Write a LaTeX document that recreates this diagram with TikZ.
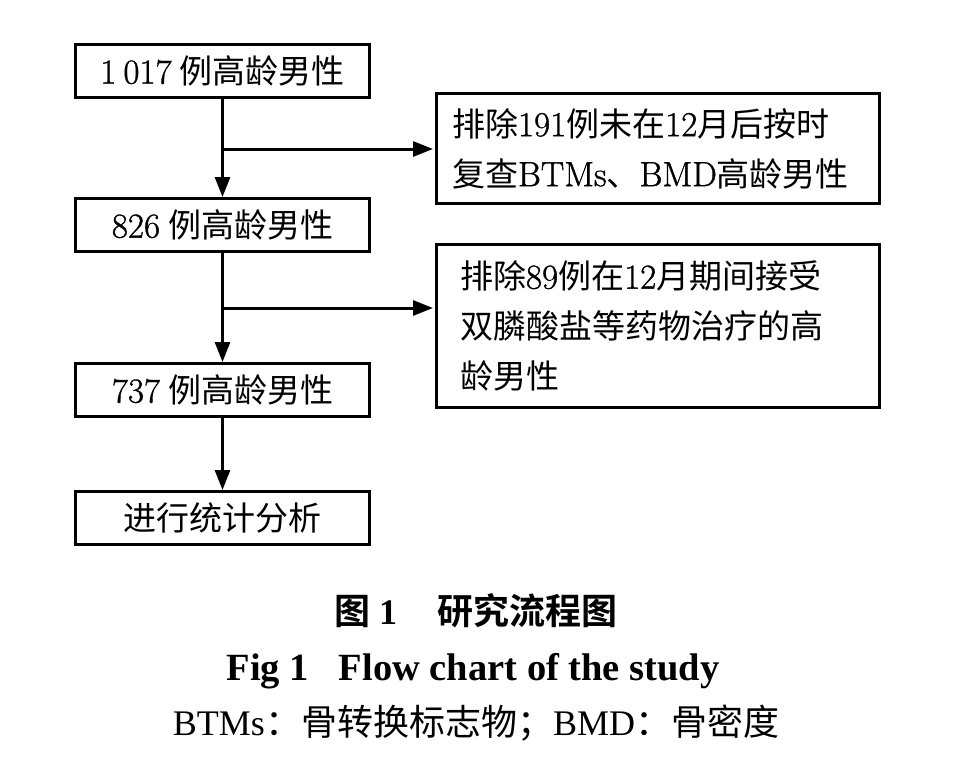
\documentclass[tikz,border=0pt]{standalone}
\usepackage{fontspec}
\usetikzlibrary{arrows.meta}
\setmainfont{Latin Modern Roman}[FakeBold=1]
\newfontfamily\cjk{Noto Sans CJK SC}[BoldFont={* Bold}]
\newfontfamily\capfont{Liberation Serif}
\newcommand{\dg}[1]{{\fontsize{35}{38}\selectfont #1}}
\begin{document}
\begin{tikzpicture}[x=1pt,y=-1pt,
  mainbox/.style={draw, line width=3pt, minimum width=294pt, minimum height=53pt, inner sep=0pt,
    font=\fontsize{33}{38}\selectfont},
  sidebox/.style={draw, line width=3pt, minimum width=443pt, align=left, inner sep=0pt,
    font=\fontsize{33}{50}\selectfont},
  conn/.style={line width=3pt, -{Triangle[length=20pt,width=15pt]}},
  captext/.style={inner sep=0pt, anchor=base}
]
\useasboundingbox (0,0) rectangle (960,766);
\node[mainbox] (b1) at (222.5,71) {\dg{1\hspace{7pt}017}\hspace{8pt}{\cjk 例高龄男性}};
\node[mainbox] (b2) at (222.5,225) {\dg{826}\hspace{8pt}{\cjk 例高龄男性}};
\node[mainbox] (b3) at (222.5,390) {\dg{737}\hspace{8pt}{\cjk 例高龄男性}};
\node[mainbox] (b4) at (222.5,518) {{\cjk 进行统计分析}};
\node[sidebox, minimum height=110pt, text width=412pt] (sa) at (658,148.5)
  {{\cjk 排除}\dg{191}{\cjk 例未在}\dg{12}{\cjk 月后按时}\\{\cjk 复查}\dg{BTMs}{\cjk 、}\dg{BMD}{\cjk 高龄男性}};
\node[sidebox, minimum height=163pt, text width=396pt] (sb) at (658,326)
  {{\cjk 排除}\dg{89}{\cjk 例在}\dg{12}{\cjk 月期间接受}\\{\cjk 双膦酸盐等药物治疗的高}\\{\cjk 龄男性}};
\coordinate (j1) at (222.5,149);
\coordinate (j2) at (222.5,308);
\draw[conn] (b1.south) -- (b2.north);
\draw[conn] (b2.south) -- (b3.north);
\draw[conn] (b3.south) -- (b4.north);
\draw[conn, shorten >=2pt] (j1) -- (j1 -| sa.west);
\draw[conn, shorten >=2pt] (j2) -- (j2 -| sb.west);
\node[captext, anchor=base west, font=\fontsize{36}{40}\selectfont] (c1) at (334,624) {{\cjk\bfseries 图}\hspace{9pt}{\capfont\bfseries 1}\hspace{40pt}{\cjk\bfseries 研究流程图}};
\node[captext, font=\fontsize{38.5}{42}\selectfont\capfont\bfseries] (c2) at (473,680) {Fig 1\hspace{30pt}Flow chart of the study};
\node[captext, font=\fontsize{36}{40}\selectfont] (c3) at (476,735) {{\capfont BTMs}{\cjk ：骨转换标志物；}{\capfont BMD}{\cjk ：骨密度}};
\end{tikzpicture}
\end{document}
